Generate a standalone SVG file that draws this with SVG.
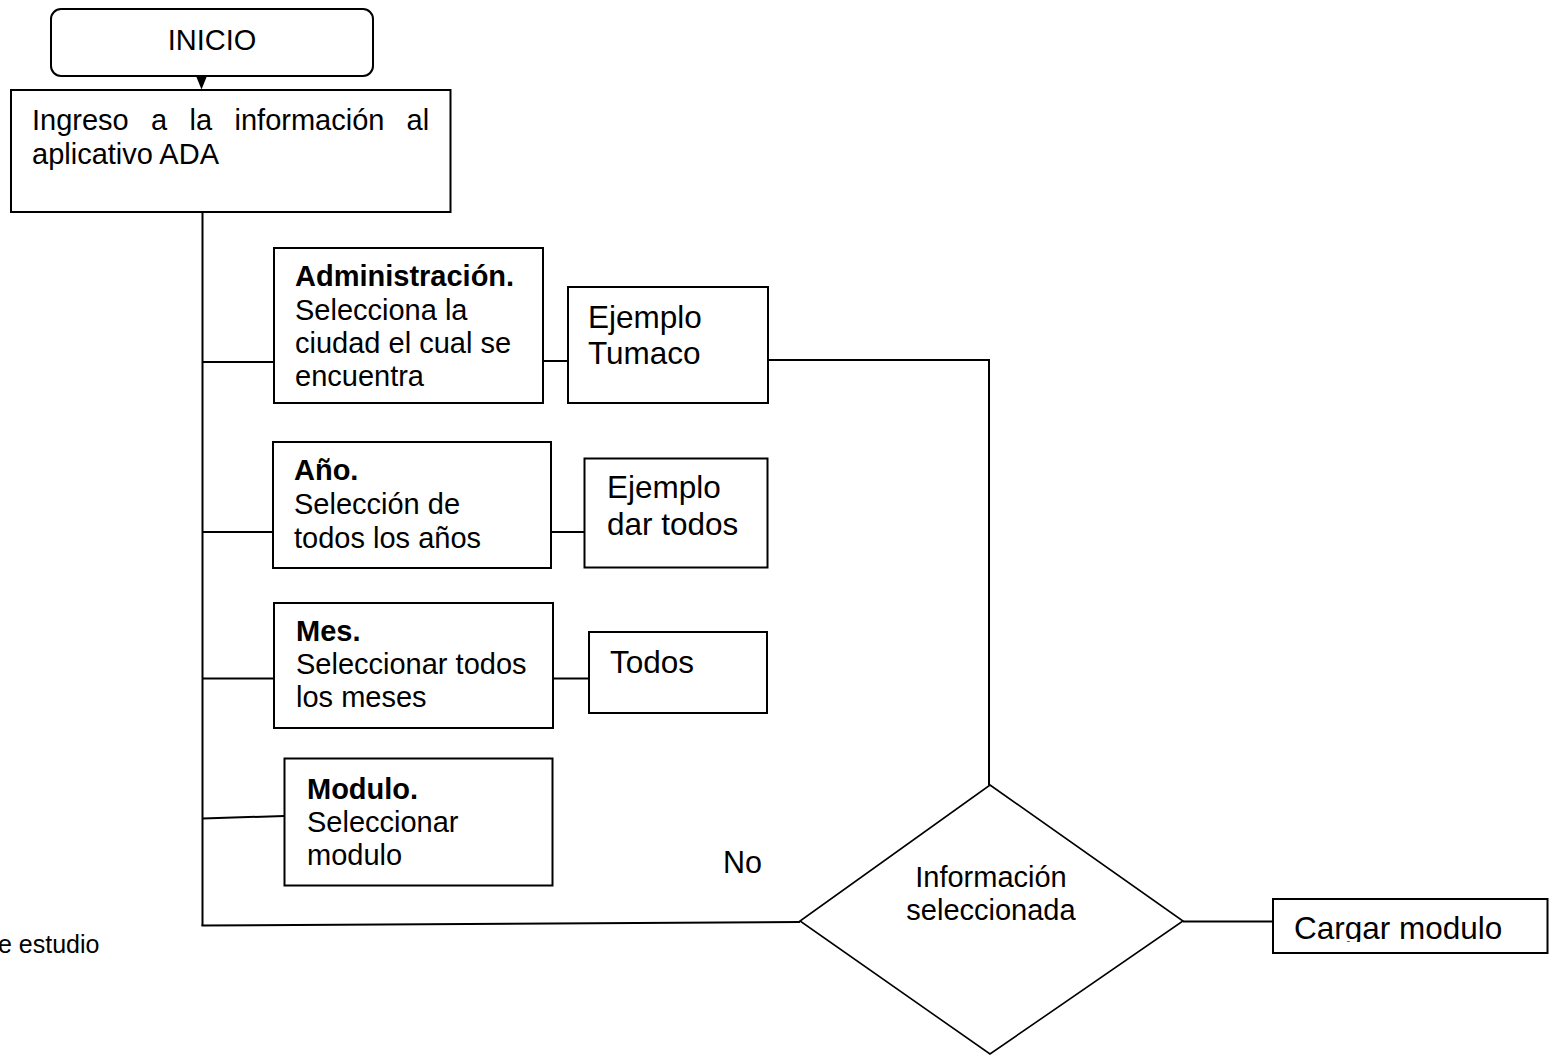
<svg xmlns="http://www.w3.org/2000/svg" width="1549" height="1055" viewBox="0 0 1549 1055">
  <style>
    text { font-family: "Liberation Sans", Arial, sans-serif; fill: #000; }
    .box { fill: #fff; stroke: #000; stroke-width: 2; }
    .dia { fill: #fff; stroke: #000; stroke-width: 1.6; }
    .wire { fill: none; stroke: #000; stroke-width: 2; }
    .t29 { font-size: 29px; }
    .t31 { font-size: 31.5px; }
    .b { font-weight: bold; }
  </style>
  <defs>
    <clipPath id="cargarClip">
      <rect x="1273" y="899" width="275" height="43"/>
    </clipPath>
  </defs>

  <rect width="1549" height="1055" fill="#fff"/>

  <!-- connectors -->
  <g id="connectors">
    <polygon points="196,76 207,76 201.5,89.5" fill="#000"/>
    <line class="wire" x1="202.5" y1="212" x2="202.5" y2="926"/>
    <line class="wire" x1="202.5" y1="362" x2="274" y2="362"/>
    <line class="wire" x1="543" y1="361" x2="568" y2="361"/>
    <line class="wire" x1="202.5" y1="532" x2="273" y2="532"/>
    <line class="wire" x1="551" y1="532" x2="584" y2="532"/>
    <line class="wire" x1="202.5" y1="678.5" x2="274" y2="678.5"/>
    <line class="wire" x1="553" y1="678.5" x2="589" y2="678.5"/>
    <line class="wire" x1="202.5" y1="818.5" x2="284" y2="816"/>
    <line class="wire" x1="201.5" y1="925.5" x2="800" y2="922"/>
    <polyline class="wire" points="768,360 989,360 989,785"/>
    <line class="wire" x1="1183" y1="921.5" x2="1273" y2="921.5"/>
  </g>

  <!-- start -->
  <g id="inicio">
    <rect class="box" x="51" y="9" width="322" height="67" rx="10"/>
    <text class="t29" x="212" y="49.5" text-anchor="middle">INICIO</text>
  </g>

  <!-- justified first line: words placed individually -->
  <g id="ingreso">
    <rect class="box" x="11" y="90" width="439.5" height="122"/>
    <text class="t29" y="130"><tspan x="32">Ingreso</tspan><tspan x="151">a</tspan><tspan x="189.5">la</tspan><tspan x="234.5">información</tspan><tspan x="406.5">al</tspan></text>
    <text class="t29" x="32" y="164">aplicativo ADA</text>
  </g>

  <g id="administracion">
    <rect class="box" x="274" y="248" width="269" height="155"/>
    <text class="t29 b" x="295" y="285.5">Administración.</text>
    <text class="t29" x="295" y="320">Selecciona la</text>
    <text class="t29" x="295" y="353">ciudad el cual se</text>
    <text class="t29" x="295" y="386">encuentra</text>
  </g>

  <g id="ejemplo-tumaco">
    <rect class="box" x="568" y="287" width="200" height="116"/>
    <text class="t31" x="588" y="328">Ejemplo</text>
    <text class="t31" x="588" y="364">Tumaco</text>
  </g>

  <g id="anio">
    <rect class="box" x="273" y="442" width="278" height="126"/>
    <text class="t29 b" x="294" y="480">Año.</text>
    <text class="t29" x="294" y="513.5">Selección de</text>
    <text class="t29" x="294" y="547.5">todos los años</text>
  </g>

  <g id="ejemplo-todos">
    <rect class="box" x="584.5" y="458.5" width="183" height="109"/>
    <text class="t31" x="607" y="498">Ejemplo</text>
    <text class="t31" x="607" y="534.5">dar todos</text>
  </g>

  <g id="mes">
    <rect class="box" x="274" y="603" width="279" height="125"/>
    <text class="t29 b" x="296" y="641">Mes.</text>
    <text class="t29" x="296" y="674">Seleccionar todos</text>
    <text class="t29" x="296" y="707">los meses</text>
  </g>

  <g id="todos">
    <rect class="box" x="589" y="632" width="178" height="81"/>
    <text class="t31" x="610" y="672.5">Todos</text>
  </g>

  <g id="modulo">
    <rect class="box" x="284.5" y="758.5" width="268" height="127"/>
    <text class="t29 b" x="307" y="799">Modulo.</text>
    <text class="t29" x="307" y="832">Seleccionar</text>
    <text class="t29" x="307" y="865">modulo</text>
  </g>

  <g id="no-label">
    <text class="t29" x="723" y="873" style="font-size:30.5px">No</text>
  </g>

  <g id="decision">
    <polygon class="dia" points="990,785 1183,921 990,1054 800,921"/>
    <text class="t29" x="991" y="887" text-anchor="middle">Información</text>
    <text class="t29" x="991" y="920" text-anchor="middle">seleccionada</text>
  </g>

  <g id="cargar">
    <rect class="box" x="1273" y="899" width="274.5" height="54"/>
    <text class="t31" x="1294" y="938.5" clip-path="url(#cargarClip)">Cargar modulo</text>
  </g>

  <text x="-2" y="953" style="font-size:25px">e estudio</text>
</svg>
